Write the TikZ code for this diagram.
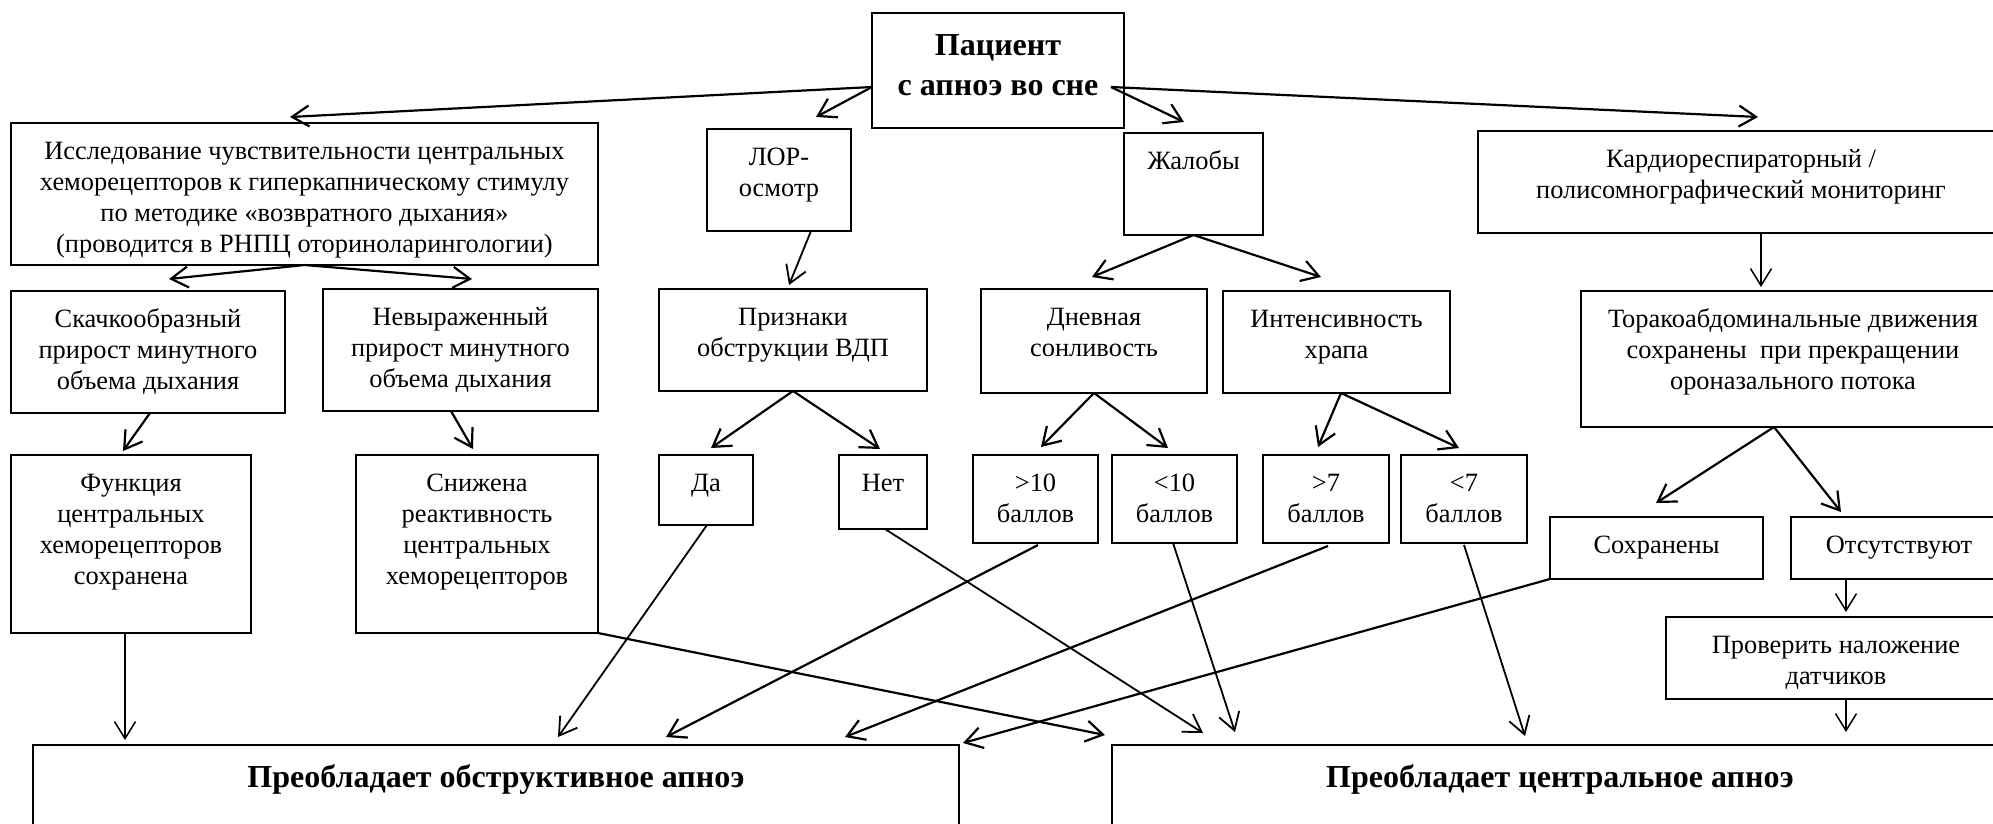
\documentclass[tikz,border=0pt]{standalone}
\usepackage{fontspec}
\setmainfont{Liberation Serif}
\usetikzlibrary{arrows.meta,calc}
\tikzset{
  bx/.style={draw, line width=0.55pt, inner sep=0pt, outer sep=0pt, anchor=north west, rectangle},
  tx/.style={anchor=north, inner sep=0pt, align=center, font=\fontsize{13.2}{15.5}\selectfont},
  btx/.style={anchor=north, inner sep=0pt, align=center, font=\fontsize{16}{20}\selectfont\bfseries},
  thk/.style={line width=1.1pt, -{Straight Barb[length=8.5pt,width=10.5pt]}},
  med/.style={line width=0.9pt, -{Straight Barb[length=8.5pt,width=10.5pt]}},
  thn/.style={line width=0.75pt, -{Straight Barb[length=8.5pt,width=10.5pt]}},
}
\newcommand{\mkbox}[5]{\node[bx, minimum width={(#4-#2)*0.5pt}, minimum height={(#5-#3)*0.5pt}] (#1) at (#2,#3) {};}
\begin{document}
\begin{tikzpicture}[x=0.5pt,y=-0.5pt]
\useasboundingbox (0,0) rectangle (1993,824);
\clip (0,0) rectangle (1993,824);
\fill[white] (0,0) rectangle (1993,824);
% boxes
\mkbox{pat}{872}{13}{1124}{128}
\mkbox{isl}{11}{123}{598}{265}
\mkbox{lor}{707}{129}{851}{231}
\mkbox{zhal}{1124}{133}{1263}{235}
\mkbox{kard}{1478}{131}{2004}{233}
\mkbox{skach}{11}{291}{285}{413}
\mkbox{nevyr}{323}{289}{598}{411}
\mkbox{priz}{659}{289}{927}{391}
\mkbox{dnev}{981}{289}{1207}{393}
\mkbox{inten}{1223}{291}{1450}{393}
\mkbox{tor}{1581}{291}{2005}{427}
\mkbox{func}{11}{455}{251}{633}
\mkbox{snizh}{356}{455}{598}{633}
\mkbox{da}{659}{455}{753}{525}
\mkbox{net}{839}{455}{927}{529}
\mkbox{gten}{973}{455}{1098}{543}
\mkbox{lten}{1112}{455}{1237}{543}
\mkbox{gsev}{1263}{455}{1389}{543}
\mkbox{lsev}{1401}{455}{1527}{543}
\mkbox{sohr}{1550}{517}{1763}{579}
\mkbox{ots}{1791}{517}{2007}{579}
\mkbox{prov}{1666}{617}{2006}{699}
\mkbox{obstr}{33}{745}{959}{900}
\mkbox{centr}{1112}{745}{2008}{900}
% texts
\node[btx] (patT) at ($(pat.north)+(0,14)$) {\strut Пациент\\ с апноэ во сне};
\node[tx] (islT) at ($(isl.north)+(0,14)$) {\strut Исследование чувствительности центральных\\ хеморецепторов к гиперкапническому стимулу\\ по методике «возвратного дыхания»\\ (проводится в РНПЦ оториноларингологии)};
\node[tx] (lorT) at ($(lor.north)+(0,14)$) {\strut ЛОР-\\ осмотр};
\node[tx] (zhalT) at ($(zhal.north)+(0,14)$) {\strut Жалобы};
\node[tx] (kardT) at ($(kard.north)+(0,14)$) {\strut Кардиореспираторный /\\ полисомнографический мониторинг};
\node[tx] (skachT) at ($(skach.north)+(0,14)$) {\strut Скачкообразный\\ прирост минутного\\ объема дыхания};
\node[tx] (nevyrT) at ($(nevyr.north)+(0,14)$) {\strut Невыраженный\\ прирост минутного\\ объема дыхания};
\node[tx] (prizT) at ($(priz.north)+(0,14)$) {\strut Признаки\\ обструкции ВДП};
\node[tx] (dnevT) at ($(dnev.north)+(0,14)$) {\strut Дневная\\ сонливость};
\node[tx] (intenT) at ($(inten.north)+(0,14)$) {\strut Интенсивность\\ храпа};
\node[tx] (torT) at ($(tor.north)+(0,14)$) {\strut Торакоабдоминальные движения\\ сохранены\ \ при прекращении\\ ороназального потока};
\node[tx] (funcT) at ($(func.north)+(0,14)$) {\strut Функция\\ центральных\\ хеморецепторов\\ сохранена};
\node[tx] (snizhT) at ($(snizh.north)+(0,14)$) {\strut Снижена\\ реактивность\\ центральных\\ хеморецепторов};
\node[tx] (daT) at ($(da.north)+(0,14)$) {\strut Да};
\node[tx] (netT) at ($(net.north)+(0,14)$) {\strut Нет};
\node[tx] (gtenT) at ($(gten.north)+(0,14)$) {\strut >10\\ баллов};
\node[tx] (ltenT) at ($(lten.north)+(0,14)$) {\strut <10\\ баллов};
\node[tx] (gsevT) at ($(gsev.north)+(0,14)$) {\strut >7\\ баллов};
\node[tx] (lsevT) at ($(lsev.north)+(0,14)$) {\strut <7\\ баллов};
\node[tx] (sohrT) at ($(sohr.north)+(0,14)$) {\strut Сохранены};
\node[tx] (otsT) at ($(ots.north)+(0,14)$) {\strut Отсутствуют};
\node[tx] (provT) at ($(prov.north)+(0,14)$) {\strut Проверить наложение\\ датчиков};
\node[btx] (obstrT) at ($(obstr.north)+(0,14)$) {\strut Преобладает обструктивное апноэ};
\node[btx] (centrT) at ($(centr.north)+(0,14)$) {\strut Преобладает центральное апноэ};
% start points
\coordinate (patL) at ($(pat.north west)+(0,74)$);
\coordinate (patR) at ($(pat.north east)+(-13,74)$);
\coordinate (lorS) at ($(lor.south west)+(104,0)$);
\coordinate (skachS) at ($(skach.south west)+(139,0)$);
\coordinate (nevyrS) at ($(nevyr.south west)+(128,0)$);
\coordinate (funcS) at ($(func.south west)+(114,0)$);
\coordinate (intenS) at ($(inten.south west)+(118,0)$);
\coordinate (torS) at ($(tor.south west)+(193,0)$);
\coordinate (kardS) at ($(kard.south west)+(283,0)$);
\coordinate (daS) at ($(da.south west)+(48,0)$);
\coordinate (netS) at ($(net.south west)+(46,0)$);
\coordinate (gtenS) at ($(gten.south west)+(65,2)$);
\coordinate (ltenS) at ($(lten.south west)+(61,0)$);
\coordinate (gsevS) at ($(gsev.south west)+(65,3)$);
\coordinate (lsevS) at ($(lsev.south west)+(63,2)$);
\coordinate (otsS) at ($(ots.south west)+(55,0)$);
\coordinate (provS) at ($(prov.south west)+(180,0)$);
% end points
\coordinate (eIsl) at (290,117);
\coordinate (eLor) at (816,117);
\coordinate (eZhal) at (1184,122);
\coordinate (eKard) at (1758,117);
\coordinate (eSkach) at (169,279);
\coordinate (eNevyr) at (472,279);
\coordinate (ePriz) at (789,285);
\coordinate (eDa) at (711,448);
\coordinate (eNet) at (880,449);
\coordinate (eDnev) at (1092,277);
\coordinate (eInten) at (1321,277);
\coordinate (eGten) at (1041,447);
\coordinate (eLten) at (1168,448);
\coordinate (eGsev) at (1318,447);
\coordinate (eLsev) at (1459,448);
\coordinate (eTor) at (1761,287);
\coordinate (eSohr) at (1656,503);
\coordinate (eOts) at (1841,512);
\coordinate (eFunc) at (123,451);
\coordinate (eSnizh) at (473,449);
\coordinate (eProv) at (1846,612);
\coordinate (oA) at (125,740);
\coordinate (oB) at (558,737);
\coordinate (oC) at (666,737);
\coordinate (oD) at (845,737);
\coordinate (oE) at (963,743);
\coordinate (cA) at (1105,735);
\coordinate (cB) at (1203,733);
\coordinate (cC) at (1235,732);
\coordinate (cD) at (1525,736);
\coordinate (cE) at (1846,732);
% connectors thick
\draw[thk] (patL) -- (eIsl);
\draw[thk] (patL) -- (eLor);
\draw[thk] (patR) -- (eZhal);
\draw[thk] (patR) -- (eKard);
\draw[thk] (isl.south) -- (eSkach);
\draw[thk] (isl.south) -- (eNevyr);
\draw[thk] (priz.south) -- (eDa);
\draw[thk] (priz.south) -- (eNet);
\draw[thk] (zhal.south) -- (eDnev);
\draw[thk] (zhal.south) -- (eInten);
\draw[thk] (dnev.south) -- (eGten);
\draw[thk] (dnev.south) -- (eLten);
\draw[thk] (intenS) -- (eGsev);
\draw[thk] (intenS) -- (eLsev);
\draw[thk] (torS) -- (eSohr);
\draw[thk] (torS) -- (eOts);
\draw[thk] (gtenS) -- (oC);
\draw[thk] (gsevS) -- (oD);
\draw[thk] (sohr.south west) -- (oE);
\draw[thk] (snizh.south east) -- (cA);
\draw[thk] (skachS) -- (eFunc);
\draw[thk] (nevyrS) -- (eSnizh);
% connectors medium
\draw[med] (lorS) -- (ePriz);
\draw[med] (daS) -- (oB);
\draw[med] (netS) -- (cB);
\draw[med] (ltenS) -- (cC);
\draw[med] (lsevS) -- (cD);
% connectors thin
\draw[thn] (funcS) -- (oA);
\draw[thn] (kardS) -- (eTor);
\draw[thn] (otsS) -- (eProv);
\draw[thn] (provS) -- (cE);
\end{tikzpicture}
\end{document}
